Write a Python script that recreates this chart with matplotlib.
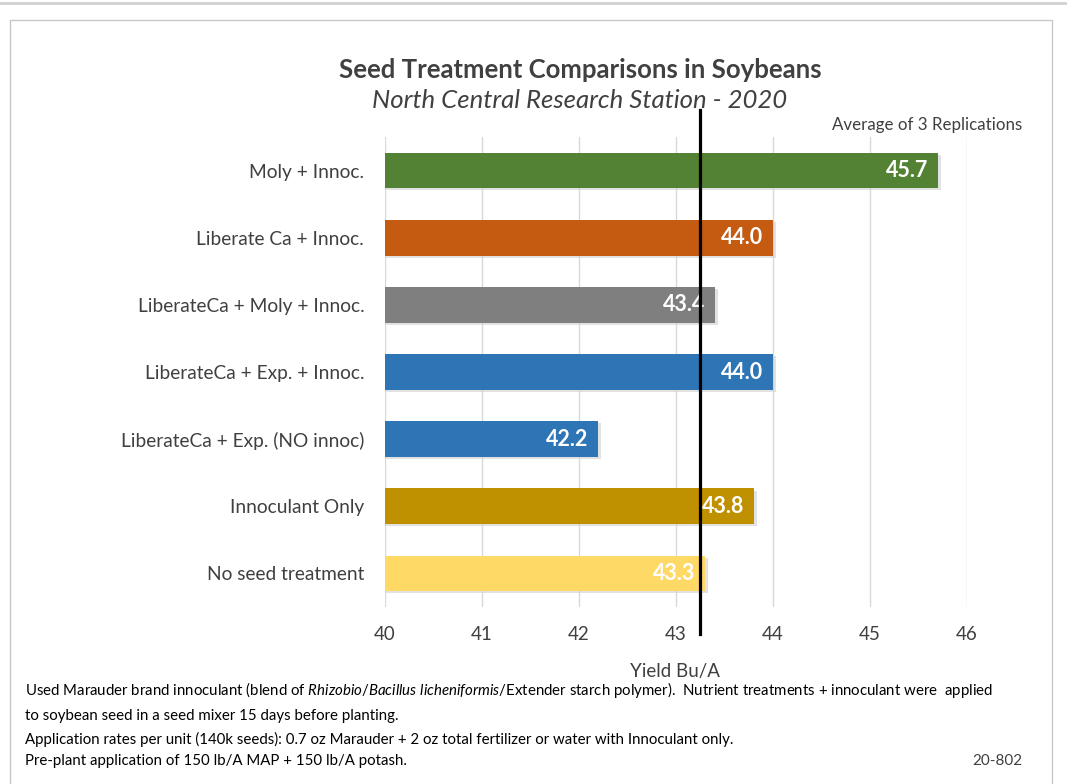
import matplotlib
matplotlib.use('Agg')
import matplotlib.pyplot as plt
from matplotlib.patches import Rectangle
from matplotlib.lines import Line2D

# datos (de arriba hacia abajo)
treatments = ['Moly + Innoc.', 'Liberate Ca + Innoc.', 'LiberateCa + Moly + Innoc.',
              'LiberateCa + Exp. + Innoc.', 'LiberateCa + Exp. (NO innoc)',
              'Innoculant Only', 'No seed treatment']
yields = [45.7, 44.0, 43.4, 44.0, 42.2, 43.8, 43.3]
bar_colors = ['#548235', '#C55A11', '#7F7F7F', '#2E75B6', '#2E75B6', '#BF9000', '#FFD966']
xticks = [40, 41, 42, 43, 44, 45, 46]
ref_line = 43.25

notes = [
    r'Used Marauder brand innoculant (blend of $\it{Rhizobio/Bacillus\ licheniformis}$/Extender starch polymer).  Nutrient treatments + innoculant were  applied',
    'to soybean seed in a seed mixer 15 days before planting.',
    'Application rates per unit (140k seeds): 0.7 oz Marauder + 2 oz total fertilizer or water with Innoculant only.',
    'Pre-plant application of 150 lb/A MAP + 150 lb/A potash.',
]

plt.rcParams['font.family'] = ['Lato', 'DejaVu Sans']
plt.rcParams['mathtext.fontset'] = 'custom'
plt.rcParams['mathtext.it'] = 'Lato:italic'
plt.rcParams['mathtext.rm'] = 'Lato'
txt = '#404040'

fig = plt.figure(figsize=(10.67, 7.84), dpi=100)
ax = fig.add_axes([385/1067, 1-607/784, 582/1067, 470/784])

pos = list(range(len(treatments)))
# sombra ligera debajo de cada barra
ax.barh([p + 0.03 for p in pos], [v + 0.03 - 40 for v in yields], left=40, height=0.53,
        color='#d0d0d0', alpha=0.6, zorder=2)
ax.barh(pos, [v - 40 for v in yields], left=40, height=0.53, color=bar_colors, zorder=3)

for p, v in zip(pos, yields):
    ax.text(v - 0.1, p, f'{v:.1f}', ha='right', va='center', color='white',
            fontsize=15.5, fontweight='bold', zorder=5)

ax.set_xlim(40, 46)
ax.set_ylim(len(treatments) - 0.5, -0.5)
ax.set_xticks(xticks)
ax.set_xticklabels([str(t) for t in xticks], fontsize=13.5, color=txt)
ax.set_yticks(pos)
ax.set_yticklabels(treatments, fontsize=13.8, color=txt)
ax.tick_params(length=0, axis='y', pad=15)
ax.tick_params(length=0, axis='x', pad=14)
ax.grid(axis='x', color='#d9d9d9', lw=1, zorder=0)
for s in ax.spines.values():
    s.set_visible(False)

ax.axvline(ref_line, ymin=-0.057, ymax=1.057, color='black', lw=2.3, clip_on=False, zorder=6)

fig.text(675/1067, 1-672/784, 'Yield Bu/A', ha='center', va='center', fontsize=13.5, color=txt)

fig.text(580/1067, 1-70/784, 'Seed Treatment Comparisons in Soybeans', ha='center', va='center',
         fontsize=18.5, fontweight='bold', color=txt)
fig.text(580/1067, 1-101/784, 'North Central Research Station - 2020', ha='center', va='center',
         fontsize=18.5, style='italic', color=txt)
fig.text(1022/1067, 1-125/784, 'Average of 3 Replications', ha='right', va='center',
         fontsize=12.2, color=txt)

for i, line in enumerate(notes):
    y = [690, 716, 739, 761][i]
    fig.text(25/1067, 1-y/784, line, ha='left', va='center', fontsize=10.8, color='black')
fig.text(1022/1067, 1-761/784, '20-802', ha='right', va='center', fontsize=11, color=txt)

# marco del gráfico
fig.patches.append(Rectangle((10/1067, -0.01), 1042/1067, 1-20/784 + 0.01,
                             transform=fig.transFigure, fill=False, ec='#c8c8c8', lw=1))
fig.lines.append(Line2D([0, 1], [1-3/784, 1-3/784], transform=fig.transFigure,
                        color='#d0d0d0', lw=2))

fig.savefig('out.png', dpi=100)
